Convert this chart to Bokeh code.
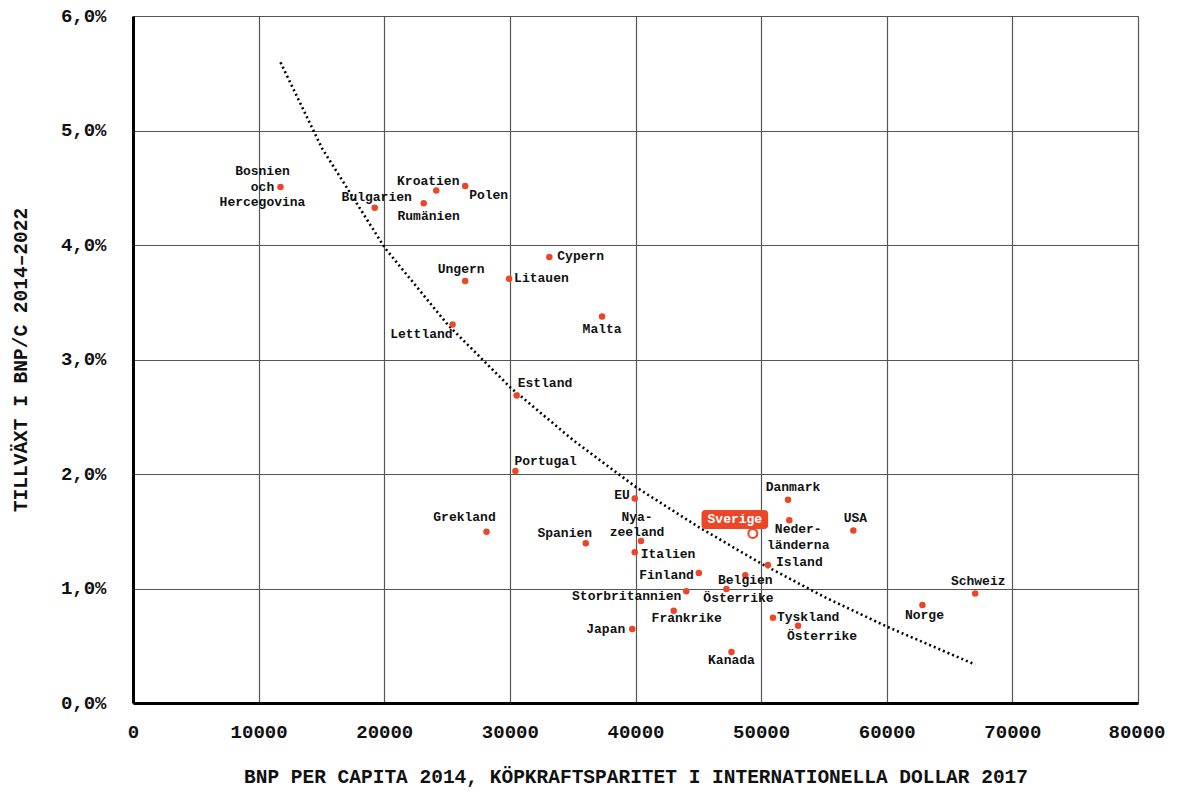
from bokeh.plotting import figure
from bokeh.models import ColumnDataSource, Label, FixedTicker, Range1d
from bokeh.core.properties import value
from bokeh.embed import file_html
from bokeh.resources import INLINE

# ---------------- data ----------------
countries = ["Bosnien\noch\nHercegovina", "Kroatien", "Polen", "Bulgarien", "Rumänien",
             "Cypern", "Ungern", "Litauen", "Malta", "Lettland", "Estland", "Portugal",
             "EU", "Grekland", "Spanien", "Nya-\nzeeland", "Italien", "Finland",
             "Storbritannien", "Frankrike", "Japan", "Kanada", "Belgien", "Österrike",
             "Danmark", "Neder-\nländerna", "USA", "Island", "Tyskland", "Österrike",
             "Norge", "Schweiz"]
gdp_2014 = [11700, 24100, 26400, 19200, 23100,
            33100, 26400, 29900, 37300, 25400, 30500, 30400,
            39900, 28100, 36000, 40400, 39900, 45000,
            44000, 43000, 39700, 47600, 48700, 47200,
            52100, 52200, 57300, 50500, 50900, 52900,
            62800, 67000]
growth = [4.51, 4.48, 4.52, 4.33, 4.37,
          3.90, 3.69, 3.71, 3.38, 3.31, 2.69, 2.03,
          1.79, 1.50, 1.40, 1.42, 1.32, 1.14,
          0.98, 0.81, 0.65, 0.45, 1.12, 1.00,
          1.78, 1.60, 1.51, 1.21, 0.75, 0.68,
          0.86, 0.96]

sverige_name = "Sverige"
sverige_gdp = 49300
sverige_growth = 1.485

trend_x = [11700, 15000, 20000, 25000, 30000, 35000, 40000, 45000, 50000, 55000, 60000, 67000]
trend_y = [5.60, 4.85, 3.98, 3.31, 2.76, 2.30, 1.89, 1.54, 1.22, 0.93, 0.67, 0.34]

x_ticks = [0, 10000, 20000, 30000, 40000, 50000, 60000, 70000, 80000]
x_tick_labels = ["0", "10000", "20000", "30000", "40000", "50000", "60000", "70000", "80000"]
y_ticks = [0, 1, 2, 3, 4, 5, 6]
y_tick_labels = ["0,0%", "1,0%", "2,0%", "3,0%", "4,0%", "5,0%", "6,0%"]

x_title = "BNP PER CAPITA 2014, KÖPKRAFTSPARITET I INTERNATIONELLA DOLLAR 2017"
y_title = "TILLVÄXT I BNP/C 2014–2022"

# ---------------- label layout (screen px offsets, align) ----------------
label_layout = [(-18, 0, "center"), (-8, -9, "center"), (4, 10, "left"), (2, -10, "center"),
                (5, 13, "center"), (8, 0, "left"), (-4, -11, "center"), (5, 0, "left"),
                (0, 13, "center"), (0, 10, "right"), (1, -12, "left"), (-1, -10, "left"),
                (-5, -3, "right"), (-22, -14, "center"), (-21, -10, "center"), (-4, -16, "center"),
                (6, 2, "left"), (-5, 3, "right"), (-5, 5, "right"), (13, 8, "center"),
                (-7, 0, "right"), (0, 9, "center"), (0, 5, "center"), (12, 9, "center"),
                (5, -12, "center"), (9, 17, "center"), (2, -12, "center"), (8, -2, "left"),
                (4, 0, "left"), (24, 11, "center"), (2, 10, "center"), (3, -12, "center")]

FONT = "Liberation Mono"
RED = "#ec4628"
INK = "#111111"
GRID = "#555555"

p = figure(frame_width=1005, frame_height=687,
           x_range=Range1d(0, 80000), y_range=Range1d(0, 6),
           output_backend="svg", toolbar_location=None,
           min_border_left=133, min_border_right=27, min_border_top=16, min_border_bottom=80,
           background_fill_color="white", border_fill_color="white")

p.outline_line_color = GRID
p.outline_line_width = 1.2

for ax in (p.xaxis, p.yaxis):
    ax.axis_line_color = "black"
    ax.axis_line_width = 3
    ax.major_tick_line_color = None
    ax.minor_tick_line_color = None
    ax.major_label_text_font = FONT
    ax.major_label_text_font_style = "bold"
    ax.major_label_text_color = INK
    ax.axis_label_text_font = FONT
    ax.axis_label_text_font_style = "bold"
    ax.axis_label_text_color = INK

p.xaxis.ticker = FixedTicker(ticks=x_ticks)
p.xaxis.major_label_overrides = {t: l for t, l in zip(x_ticks, x_tick_labels)}
p.yaxis.ticker = FixedTicker(ticks=y_ticks)
p.yaxis.major_label_overrides = {t: l for t, l in zip(y_ticks, y_tick_labels)}
p.xaxis.major_label_text_font_size = "19px"
p.yaxis.major_label_text_font_size = "19px"
p.xaxis.major_label_standoff = 16
p.yaxis.major_label_standoff = 21
p.xaxis.axis_label = x_title
p.yaxis.axis_label = y_title
p.xaxis.axis_label_text_font_size = "19.5px"
p.yaxis.axis_label_text_font_size = "19.5px"
p.xaxis.axis_label_standoff = 26
p.yaxis.axis_label_standoff = 25

p.xgrid.ticker = FixedTicker(ticks=x_ticks)
p.ygrid.ticker = FixedTicker(ticks=y_ticks)
p.grid.grid_line_color = GRID
p.grid.grid_line_width = 1.2

# trend line
p.line(trend_x, trend_y, line_color="black", line_width=2.6, line_dash="2 3")

# points
src = ColumnDataSource(dict(
    x=gdp_2014, y=growth, name=countries,
    dx=[l[0] for l in label_layout], dy=[l[1] for l in label_layout],
    align=[l[2] for l in label_layout]))
p.scatter("x", "y", source=src, size=6.5, fill_color=RED, line_color=None)
p.text("x", "y", text="name", source=src, x_offset="dx", y_offset="dy",
       text_align="align", text_baseline="middle",
       text_font=value(FONT), text_font_style="bold", text_font_size="13px",
       text_color=INK, text_line_height=1.05)

# Sverige
p.scatter([sverige_gdp], [sverige_growth], size=9, fill_color="white",
          line_color=RED, line_width=2)
p.add_layout(Label(x=sverige_gdp, y=sverige_growth, x_offset=-18, y_offset=14,
                   text=sverige_name, text_align="center", text_baseline="middle",
                   text_font=FONT, text_font_style="bold", text_font_size="13px",
                   text_color="white", background_fill_color=RED,
                   border_radius=4, padding=(6, 2)))

open("out.html", "w").write(file_html(p, INLINE))
